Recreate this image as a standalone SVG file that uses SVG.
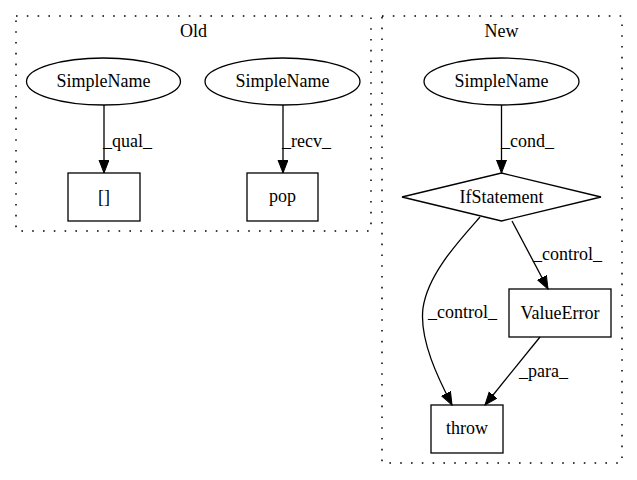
<svg xmlns="http://www.w3.org/2000/svg" width="637" height="480" viewBox="0 0 637 480">
<defs>
<style>
text{font-family:"Liberation Serif","Times New Roman",serif;font-size:18px;fill:#000}
.c{text-anchor:middle}
.cl{fill:none;stroke:#000;stroke-width:1.5;stroke-dasharray:1.6,9.2}
.n{fill:none;stroke:#000;stroke-width:1.3}
.e{fill:none;stroke:#000;stroke-width:1.3;marker-end:url(#ah)}
</style>
<marker id="ah" markerUnits="userSpaceOnUse" markerWidth="14" markerHeight="12" refX="13" refY="5" orient="auto">
<path d="M0,0 L13,5 L0,10 z" fill="#000" stroke="#000" stroke-width="1"/>
</marker>
</defs>
<rect width="637" height="480" fill="#fff"/>
<g id="cluster_old">
<rect class="cl" x="16" y="16" width="355" height="215"/>
<text class="c" x="193.5" y="37">Old</text>
</g>
<g id="cluster_new">
<rect class="cl" x="382" y="16" width="240" height="447"/>
<text class="c" x="501.5" y="37">New</text>
</g>
<g id="connectors">
<path class="e" d="M104,105 L104,173"/>
<text x="103" y="147">_qual_</text>
<path class="e" d="M283,105 L283,173"/>
<text x="282" y="147">_recv_</text>
<path class="e" d="M501.5,105 L501.5,173"/>
<text x="501" y="147">_cond_</text>
<path class="e" d="M512,221 L548,289"/>
<text x="533" y="260">_control_</text>
<path class="e" d="M480,217 C458,242 428,274 423,308 C419,340 439,380 452,405"/>
<text x="428" y="318">_control_</text>
<path class="e" d="M540,337 L485,405"/>
<text x="519" y="377">_para_</text>
</g>
<g id="node_sn1">
<ellipse class="n" cx="103.5" cy="81.5" rx="77" ry="23.5"/>
<text class="c" x="103.5" y="87">SimpleName</text>
</g>
<g id="node_sn2">
<ellipse class="n" cx="282.5" cy="81.5" rx="77.5" ry="23.5"/>
<text class="c" x="282.5" y="87">SimpleName</text>
</g>
<g id="node_idx">
<rect class="n" x="68" y="173" width="72" height="48"/>
<text class="c" x="104" y="203">[]</text>
</g>
<g id="node_pop">
<rect class="n" x="247" y="173" width="71" height="48"/>
<text class="c" x="282.5" y="202">pop</text>
</g>
<g id="node_sn3">
<ellipse class="n" cx="501.5" cy="81.5" rx="77.5" ry="23.5"/>
<text class="c" x="501.5" y="87">SimpleName</text>
</g>
<g id="node_if">
<polygon class="n" points="501.5,173 601,197 501.5,221 402,197"/>
<text class="c" x="501.5" y="203">IfStatement</text>
</g>
<g id="node_ve">
<rect class="n" x="509" y="289" width="102" height="48"/>
<text class="c" x="560" y="319">ValueError</text>
</g>
<g id="node_throw">
<rect class="n" x="431" y="405" width="72" height="48"/>
<text class="c" x="467" y="434">throw</text>
</g>
</svg>
